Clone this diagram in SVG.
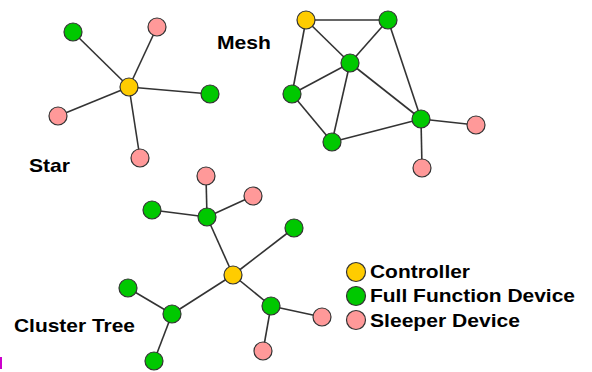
<svg xmlns="http://www.w3.org/2000/svg" width="592" height="372" viewBox="0 0 592 372">
<style>
.e{stroke:#333;stroke-width:1.6;fill:none}
.n{stroke:#333;stroke-width:1.2}
.c{fill:#FFCC00}
.f{fill:#00C800}
.s{fill:#FF9999}
.t{font-family:"Liberation Sans",Arial,sans-serif;font-weight:bold;font-size:19px;fill:#000}
</style>
<rect width="592" height="372" fill="#fff"/>
<g id="connectors">
<!-- star -->
<line class="e" x1="129" y1="87" x2="73" y2="32"/>
<line class="e" x1="129" y1="87" x2="157" y2="27"/>
<line class="e" x1="129" y1="87" x2="210" y2="94"/>
<line class="e" x1="129" y1="87" x2="58" y2="116"/>
<line class="e" x1="129" y1="87" x2="140" y2="158"/>
<!-- mesh -->
<line class="e" x1="306" y1="20" x2="388" y2="20"/>
<line class="e" x1="306" y1="20" x2="350" y2="63"/>
<line class="e" x1="306" y1="20" x2="292" y2="94"/>
<line class="e" x1="388" y1="20" x2="350" y2="63"/>
<line class="e" x1="388" y1="20" x2="421" y2="119"/>
<line class="e" x1="350" y1="63" x2="292" y2="94"/>
<line class="e" x1="350" y1="63" x2="332" y2="142"/>
<line class="e" x1="350" y1="63" x2="421" y2="119"/>
<line class="e" x1="292" y1="94" x2="332" y2="142"/>
<line class="e" x1="332" y1="142" x2="421" y2="119"/>
<line class="e" x1="421" y1="119" x2="476" y2="125"/>
<line class="e" x1="421" y1="119" x2="422" y2="168"/>
<!-- tree -->
<line class="e" x1="233" y1="275" x2="207" y2="217"/>
<line class="e" x1="207" y1="217" x2="206" y2="176"/>
<line class="e" x1="207" y1="217" x2="253" y2="196"/>
<line class="e" x1="207" y1="217" x2="152" y2="210"/>
<line class="e" x1="233" y1="275" x2="294" y2="228"/>
<line class="e" x1="233" y1="275" x2="172" y2="314"/>
<line class="e" x1="172" y1="314" x2="128" y2="288"/>
<line class="e" x1="172" y1="314" x2="154" y2="361"/>
<line class="e" x1="233" y1="275" x2="271" y2="306"/>
<line class="e" x1="271" y1="306" x2="322" y2="317"/>
<line class="e" x1="271" y1="306" x2="263" y2="351"/>
</g>
<g id="star">
<g id="star-controller"><circle class="n c" cx="129" cy="87" r="9"/></g>
<g id="star-f1"><circle class="n f" cx="73" cy="32" r="9"/></g>
<g id="star-s1"><circle class="n s" cx="157" cy="27" r="9"/></g>
<g id="star-f2"><circle class="n f" cx="210" cy="94" r="9"/></g>
<g id="star-s2"><circle class="n s" cx="58" cy="116" r="9"/></g>
<g id="star-s3"><circle class="n s" cx="140" cy="158" r="9"/></g>
</g>
<g id="mesh">
<g id="mesh-controller"><circle class="n c" cx="306" cy="20" r="9"/></g>
<g id="mesh-f1"><circle class="n f" cx="388" cy="20" r="9"/></g>
<g id="mesh-f2"><circle class="n f" cx="350" cy="63" r="9"/></g>
<g id="mesh-f3"><circle class="n f" cx="292" cy="94" r="9"/></g>
<g id="mesh-f4"><circle class="n f" cx="332" cy="142" r="9"/></g>
<g id="mesh-f5"><circle class="n f" cx="421" cy="119" r="9"/></g>
<g id="mesh-s1"><circle class="n s" cx="476" cy="125" r="9"/></g>
<g id="mesh-s2"><circle class="n s" cx="422" cy="168" r="9"/></g>
</g>
<g id="tree">
<g id="tree-controller"><circle class="n c" cx="233" cy="275" r="9"/></g>
<g id="tree-f1"><circle class="n f" cx="207" cy="217" r="9"/></g>
<g id="tree-s1"><circle class="n s" cx="206" cy="176" r="9"/></g>
<g id="tree-s2"><circle class="n s" cx="253" cy="196" r="9"/></g>
<g id="tree-f2"><circle class="n f" cx="152" cy="210" r="9"/></g>
<g id="tree-f3"><circle class="n f" cx="294" cy="228" r="9"/></g>
<g id="tree-f4"><circle class="n f" cx="172" cy="314" r="9"/></g>
<g id="tree-f5"><circle class="n f" cx="128" cy="288" r="9"/></g>
<g id="tree-f6"><circle class="n f" cx="154" cy="361" r="9"/></g>
<g id="tree-f7"><circle class="n f" cx="271" cy="306" r="9"/></g>
<g id="tree-s3"><circle class="n s" cx="322" cy="317" r="9"/></g>
<g id="tree-s4"><circle class="n s" cx="263" cy="351" r="9"/></g>
</g>
<g id="labels">
<text class="t" x="217" y="49" textLength="54" lengthAdjust="spacingAndGlyphs">Mesh</text>
<text class="t" x="29" y="172" textLength="41" lengthAdjust="spacingAndGlyphs">Star</text>
<text class="t" x="14" y="332" textLength="121" lengthAdjust="spacingAndGlyphs">Cluster Tree</text>
</g>
<g id="legend">
<g id="legend-controller"><circle class="n c" cx="356" cy="272" r="9.5"/><text class="t" x="370" y="278" textLength="100" lengthAdjust="spacingAndGlyphs">Controller</text></g>
<g id="legend-ffd"><circle class="n f" cx="356" cy="296" r="9.5"/><text class="t" x="370" y="302" textLength="205" lengthAdjust="spacingAndGlyphs">Full Function Device</text></g>
<g id="legend-sleeper"><circle class="n s" cx="356" cy="320" r="9.5"/><text class="t" x="370" y="327" textLength="150" lengthAdjust="spacingAndGlyphs">Sleeper Device</text></g>
</g>
<rect x="0" y="357" width="2" height="12" fill="#CC00CC"/>
</svg>
